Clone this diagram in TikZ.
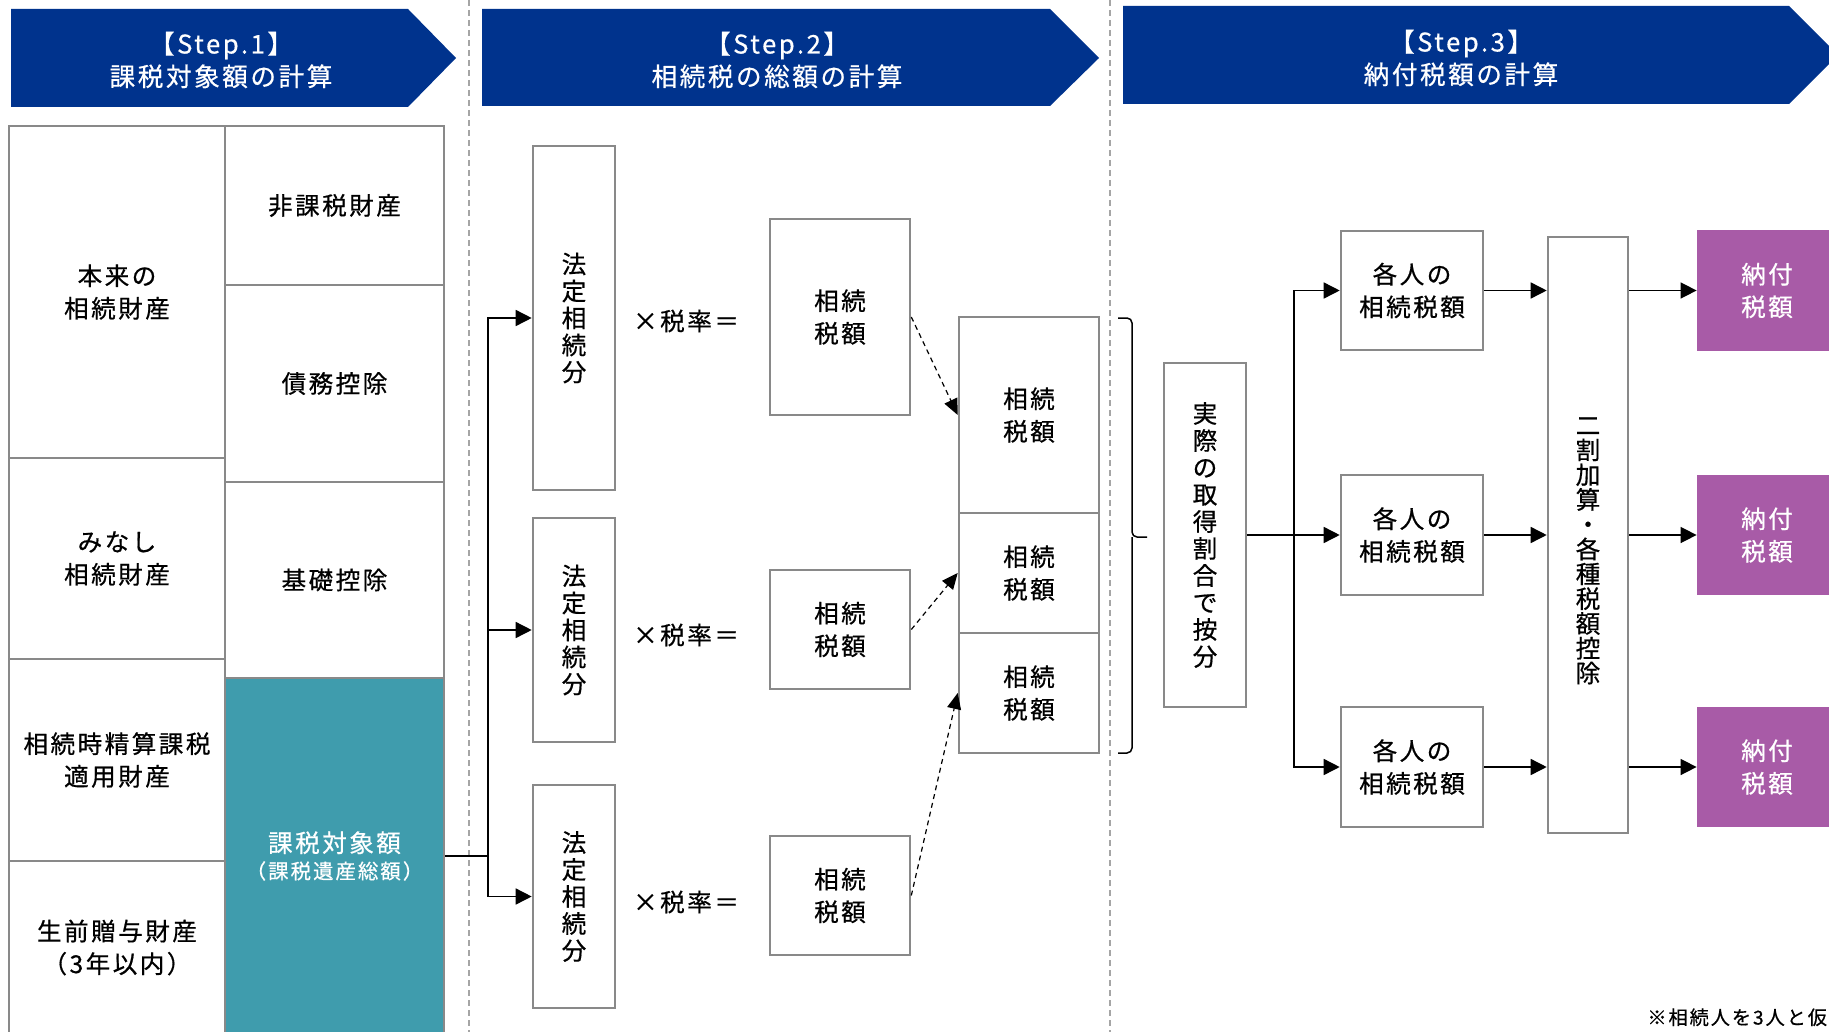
\documentclass[tikz,border=0pt]{standalone}
\usepackage{fontspec}
\setmainfont[LetterSpace=10,FakeBold=0.6]{Noto Sans CJK JP}
\usepackage{tikz}
\usetikzlibrary{positioning, arrows.meta, calc}
\definecolor{stepblue}{RGB}{0,51,141}
\definecolor{kazeiteal}{RGB}{63,156,173}
\definecolor{nofupurple}{RGB}{168,91,167}
\definecolor{boxgray}{RGB}{137,137,137}
\definecolor{sepgray}{RGB}{165,165,165}
\tikzset{
    x=0.5pt, y=-0.5pt, % one unit is one pixel of the sketch, y runs downwards
    every node/.style={ % Text of all nodes
        font=\fontsize{12.3}{16.3}\selectfont,
        align=center
    },
    box/.style={ % Grey framed boxes
        rectangle,
        draw=boxgray,
        line width=1.3pt,
        fill=white,
        inner sep=0pt
    },
    tate/.style={ % Boxes with the text running downwards
        box,
        font=\fontsize{12.3}{13.5}\selectfont
    },
    result/.style={ % Final boxes, no frame
        rectangle,
        fill=nofupurple,
        text=white,
        inner sep=0pt,
        minimum width=70pt,
        minimum height=60pt
    },
    steptext/.style={
        text=white,
        font=\fontsize{12.8}{16.3}\selectfont
    },
    line/.style={
        draw,
        line width=0.75pt
    },
    arr/.style={ % Solid connectors with big triangle heads
        line,
        -{Triangle[length=8pt,width=8pt]}
    },
    dasharr/.style={
        draw,
        line width=0.6pt,
        dash pattern=on 2.5pt off 2pt,
        -{Triangle[length=8pt,width=7pt]}
    },
    sep/.style={
        draw=sepgray,
        line width=0.6pt,
        dash pattern=on 3pt off 2pt
    },
}

\begin{document}
\begin{tikzpicture}
            \useasboundingbox (0,0) rectangle (1829,1032);

            % step banners
            \fill[stepblue] (11,9) -- (408,9) -- (456,58) -- (408,107) -- (11,107) -- cycle;
            \fill[stepblue] (482,9) -- (1050,9) -- (1099,58) -- (1050,106) -- (482,106) -- cycle;
            \fill[stepblue] (1123,6) -- (1789,6) -- (1838,55) -- (1789,104) -- (1123,104) -- cycle;
            \node[steptext] (step1) at (221,60)  {【Step.1】\\課税対象額の計算};
            \node[steptext] (step2) at (777,60)  {【Step.2】\\相続税の総額の計算};
            \node[steptext] (step3) at (1461,58) {【Step.3】\\納付税額の計算};

            \draw[sep] (469,0) -- (469,1032);
            \draw[sep] (1110,0) -- (1110,1032);

            % step 1 : table of the estate
            \node[box, minimum width=108pt, minimum height=166pt]   (honrai)  at (117,292)   {本来の\\相続財産};
            \node[box, minimum width=108pt, minimum height=100.5pt] (minashi) at (117,558.5) {みなし\\相続財産};
            \node[box, minimum width=108pt, minimum height=101pt]   (seisan)  at (117,760)   {相続時精算課税\\適用財産};
            \node[box, minimum width=108pt, minimum height=86.5pt]  (zoyo)    at (117,947.5) {生前贈与財産\\（3年以内）};
            \node[box, minimum width=109.5pt, minimum height=79.5pt] (hika)   at (334.5,205.5) {非課税財産};
            \node[box, minimum width=109.5pt, minimum height=98.5pt] (saimu)  at (334.5,383.5) {債務控除};
            \node[box, minimum width=109.5pt, minimum height=98pt]    (kiso)   at (334.5,580)   {基礎控除};
            \node[box, fill=kazeiteal, text=white,
                  minimum width=109.5pt, minimum height=178pt]         (kazei)  at (334.5,856)
                  {課税対象額\\[-3pt]{\fontsize{10.2}{11}\selectfont （課税遺産総額）}};

            % step 2 : tax on each legal share
            \node[tate, minimum width=41pt, minimum height=172pt]   (hoju1) at (574,318)   {法\\定\\相\\続\\分};
            \node[tate, minimum width=41pt, minimum height=112pt]   (hoju2) at (574,630)   {法\\定\\相\\続\\分};
            \node[tate, minimum width=41pt, minimum height=111.5pt] (hoju3) at (574,896.5) {法\\定\\相\\続\\分};
            \node (rate1) at (686,321) {×税率＝};
            \node (rate2) at (686,635) {×税率＝};
            \node (rate3) at (686,902) {×税率＝};
            \node[box, minimum width=70pt, minimum height=98pt]   (zei1) at (840,317)   {相続\\税額};
            \node[box, minimum width=70pt, minimum height=59.5pt] (zei2) at (840,629.5) {相続\\税額};
            \node[box, minimum width=70pt, minimum height=59.5pt] (zei3) at (840,895.5) {相続\\税額};
            \node[box, minimum width=70pt, minimum height=98pt] (sou1) at (1029,415) {相続\\税額};
            \node[box, minimum width=70pt, minimum height=60pt] (sou2) at (1029,573) {相続\\税額};
            \node[box, minimum width=70pt, minimum height=60pt] (sou3) at (1029,693) {相続\\税額};

            % step 3 : share out and final tax
            \node[tate, minimum width=41pt, minimum height=172pt] (anbun) at (1205,535)
                  {実\\際\\の\\取\\得\\割\\合\\で\\按\\分};
            \node[box, minimum width=71pt, minimum height=59.5pt] (kaku1) at (1412,290.5) {各人の\\相続税額};
            \node[box, minimum width=71pt, minimum height=60pt]   (kaku2) at (1412,535)   {各人の\\相続税額};
            \node[box, minimum width=71pt, minimum height=60pt]   (kaku3) at (1412,767)   {各人の\\相続税額};
            \node[tate, font=\fontsize{12.3}{12.4}\selectfont,
                  minimum width=40pt, minimum height=298pt] (niwari) at (1588,535)
                  {{}\\[12pt]二\\割\\加\\算\\・\\各\\種\\税\\額\\控\\除};
            \node[result] (nofu1) at (1767,290.5) {納付\\税額};
            \node[result] (nofu2) at (1767,535)   {納付\\税額};
            \node[result] (nofu3) at (1767,767)   {納付\\税額};

            \node[anchor=north west, inner sep=0pt, font=\fontsize{9.6}{10}\selectfont]
                  (note) at (1647,1008) {※相続人を3人と仮};

            % connectors of step 2
            \coordinate (bun1) at (488,856);
            \draw[line] (kazei.east) -- (bun1);
            \draw[arr]  (bun1) |- (hoju1.west);
            \draw[arr]  (bun1) |- (hoju2.west);
            \draw[arr]  (bun1) |- (hoju3.west);
            \draw[dasharr] (zei1.east) -- (sou1.west);
            \draw[dasharr] (zei2.east) -- (sou2.west);
            \draw[dasharr] (zei3.east) -- (sou3.west);
            % bracket round the three sums
            \draw[line, rounded corners=2.5pt]
                    (1118,318) -- (1132,318) -- (1132,537) -- (1147,537);
            \draw[line, rounded corners=2.5pt]
                    (1132,537) -- (1132,753) -- (1118,753);

            % connectors of step 3
            \coordinate (bun2) at (1294,535);
            \draw[arr] (anbun.east) -- (kaku2.west);
            \draw[arr] (bun2) |- (kaku1.west);
            \draw[arr] (bun2) |- (kaku3.west);
            \draw[arr] (kaku1.east) -- (kaku1.east -| niwari.west);
            \draw[arr] (kaku2.east) -- (kaku2.east -| niwari.west);
            \draw[arr] (kaku3.east) -- (kaku3.east -| niwari.west);
            \draw[arr] (nofu1.west -| niwari.east) -- (nofu1.west);
            \draw[arr] (nofu2.west -| niwari.east) -- (nofu2.west);
            \draw[arr] (nofu3.west -| niwari.east) -- (nofu3.west);
            %\draw[step=100,gray,very thin] (0,0) grid (1829,1032);
\end{tikzpicture}
\end{document}
